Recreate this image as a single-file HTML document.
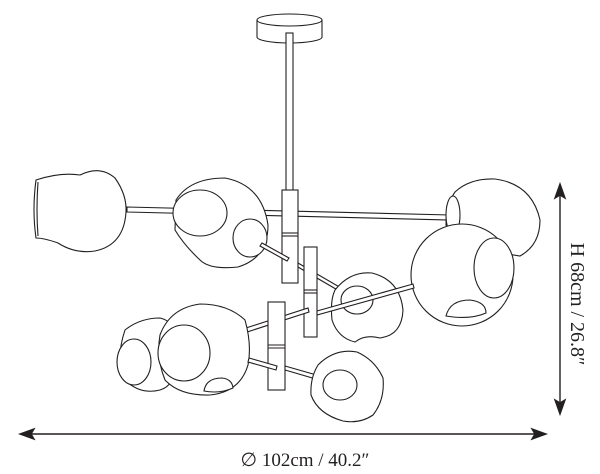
<!DOCTYPE html>
<html><head><meta charset="utf-8"><style>
html,body{margin:0;padding:0;background:#fff}
svg{display:block}
text{font-family:"Liberation Serif",serif;fill:#231f20}
</style></head><body>
<svg width="600" height="474" viewBox="0 0 600 474" xmlns="http://www.w3.org/2000/svg">
<g fill="#fff" stroke="#231f20" stroke-width="1.1">
<path d="M257 20 L257 37 A32.5 6 0 0 0 322 37 L322 20"/>
<ellipse cx="289.5" cy="20" rx="32.5" ry="6"/>
<rect x="286" y="33" width="7" height="160"/>
<path d="M127 207 L450 215 L450 220 L127 212 Z"/>
<path d="M36 180 Q60 172 80 175 Q100 165 115 178 Q127 195 126 212 Q124 245 95 251 Q75 254 58 243 Q44 238 36 238 Q32 210 36 180 Z"/>
<path d="M38 182 Q36 210 38 236"/>
<path d="M455 192 Q470 178 495 179 Q532 184 540 220 Q540 245 520 256 L470 248 Q452 240 446 225 Q446 205 455 192 Z"/>
<ellipse cx="453" cy="215" rx="7" ry="19"/>
<rect x="282" y="190" width="16" height="93"/>
<line x1="282" y1="233" x2="298" y2="233"/><line x1="282" y1="236" x2="298" y2="236"/>
<path d="M176 200 Q190 178 225 178 Q262 185 268 225 Q268 258 238 267 Q210 270 200 260 Q184 245 175 230 Z"/>
<ellipse cx="200" cy="213" rx="27" ry="23"/>
<ellipse cx="250" cy="238" rx="17" ry="19"/>
<path d="M262 243 L289 258 L287 261 L260 246 Z"/>
<path d="M298 263 L355 296 L353 299 L298 267 Z"/>
<path d="M335 290 Q350 271 372 273 Q400 280 403 310 Q402 335 380 338 Q365 334 355 342 Q338 338 332 320 Q330 300 335 290 Z"/>
<ellipse cx="357" cy="300" rx="16" ry="14"/>
<rect x="304" y="247" width="13" height="90"/>
<line x1="304" y1="290" x2="317" y2="290"/><line x1="304" y1="293" x2="317" y2="293"/>
<circle cx="462" cy="275" r="51"/>
<ellipse cx="494" cy="268" rx="20" ry="30"/>
<path d="M446 316 Q450 300 470 300 Q486 302 486 313 Q470 320 446 316 Z"/>
<path d="M317 311 L413 284 L414 288 L317 315 Z"/>
<path d="M246 328 L308 308 L309 312 L247 332 Z"/>
<path d="M125 330 Q140 318 160 318 Q178 322 178 350 Q178 385 160 390 Q140 395 125 380 Q115 360 125 330 Z"/>
<ellipse cx="134" cy="362" rx="17" ry="23"/>
<rect x="268" y="302" width="17" height="88"/>
<line x1="268" y1="345" x2="285" y2="345"/><line x1="268" y1="348" x2="285" y2="348"/>
<path d="M160 335 Q170 308 200 304 Q228 304 245 320 Q252 345 248 365 Q240 392 210 395 Q180 396 165 380 Q156 358 160 335 Z"/>
<ellipse cx="184" cy="353" rx="26" ry="28"/>
<path d="M204 391 Q206 378 222 378 Q232 379 233 388 Q220 394 204 391 Z"/>
<path d="M249 358 L277 366 L276 370 L248 362 Z"/>
<path d="M285 366 L334 380 L333 384 L285 370 Z"/>
<path d="M318 365 Q335 348 357 352 Q375 360 383 378 Q385 400 373 415 Q360 424 343 421 Q318 414 311 395 Q310 378 318 365 Z"/>
<ellipse cx="340" cy="385" rx="17" ry="15"/>
</g>
<g stroke="#231f20" stroke-width="1.4" fill="#231f20">
<line x1="560" y1="190" x2="560" y2="408"/>
<path d="M560 184 L555 198 L560 195 L565 198 Z"/>
<path d="M560 414 L555 400 L560 403 L565 400 Z"/>
<line x1="26" y1="434" x2="540" y2="434"/>
<path d="M20 434 L34 429 L31 434 L34 439 Z"/>
<path d="M546 434 L532 429 L535 434 L532 439 Z"/>
</g>
<text x="305" y="466" font-size="19" text-anchor="middle">∅ 102cm / 40.2″</text>
<text transform="translate(571,304) rotate(90)" font-size="20" text-anchor="middle">H 68cm / 26.8″</text>
</svg>
</body></html>
